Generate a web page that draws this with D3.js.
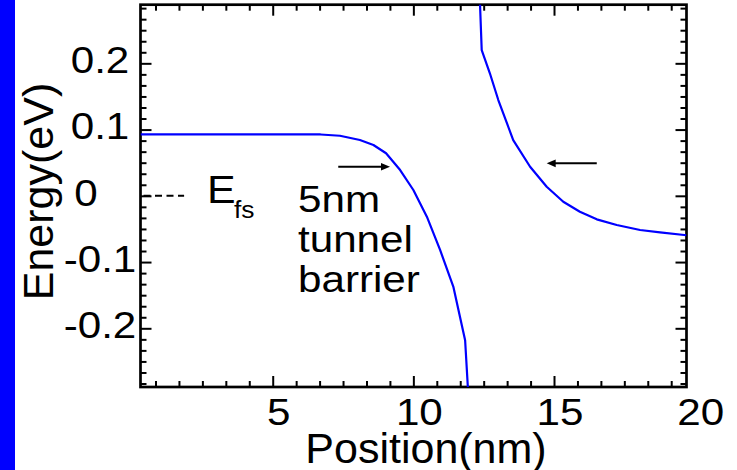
<!DOCTYPE html>
<html>
<head>
<meta charset="utf-8">
<script src="https://cdn.jsdelivr.net/npm/d3@7/dist/d3.min.js"></script>
<style>
  html, body { margin: 0; padding: 0; background: #fff; }
  svg { display: block; }
</style>
</head>
<body>
<svg id="chart" width="737" height="470"></svg>
<script>
// Conduction band edge, source side (position in nm, energy in eV)
const leftPosition = [0.3, 3.5, 6.7, 7.39, 8.10, 8.58, 9.03, 9.53, 10.0, 10.48, 10.95, 11.42, 11.84, 11.98];
const leftEnergy   = [0.0928, 0.0928, 0.0926, 0.0907, 0.0842, 0.0767, 0.0642, 0.0389, 0.0088, -0.0315, -0.0817, -0.137, -0.218, -0.32];

// Conduction band edge, drain side
const rightPosition = [12.36, 12.43, 12.72, 13.02, 13.55, 14.15, 14.74, 15.33, 15.92, 16.52, 17.23, 18.06, 18.77, 19.71];
const rightEnergy   = [0.30, 0.220, 0.185, 0.1446, 0.0842, 0.0439, 0.0137, -0.0089, -0.024, -0.0355, -0.0441, -0.0516, -0.0551, -0.0595];

// Axis ticks
const xTickLabels = [5, 10, 15, 20];
const yTickLabels = [-0.2, -0.1, 0, 0.1, 0.2];
const xDomain = [0.3, 19.71];
const yDomain = [-0.2886, 0.2885];

// Annotations
const fermiLevel = 0;
const fermiEnd = 1.85;
const barrierArrow = { from: [7.33, 0.0439], to: [9.17, 0.0439] };
const drainArrow   = { from: [16.52, 0.049], to: [14.74, 0.049] };
const barrierLines = ["5nm", "tunnel", "barrier"];

const svg = d3.select("#chart");
const FONT = "'Liberation Sans', Arial, Helvetica, sans-serif";

// side bar
svg.append("rect").attr("x", 0).attr("y", 0).attr("width", 15).attr("height", 470).attr("fill", "#0000ff");

const frameL = 140.5, frameR = 686.5, frameT = 4.7, frameB = 387;
const x = d3.scaleLinear().domain(xDomain).range([frameL, frameR]);
const y = d3.scaleLinear().domain(yDomain).range([frameB, frameT]);

svg.append("defs").append("clipPath").attr("id", "plotClip")
  .append("rect").attr("x", frameL).attr("y", frameT).attr("width", frameR - frameL).attr("height", frameB - frameT);

// tick positions
const xMajor = xTickLabels.filter(v => v >= xDomain[0] && v <= xDomain[1]);
const xMinor = d3.range(1, 24).filter(k => k % 6 !== 0).map(k => k * 5 / 6).filter(v => v <= xDomain[1]);
const yMajor = yTickLabels;
const yMinor = d3.range(-17, 18).filter(k => k % 6 !== 0).map(k => k / 60);

function tickAxis(axisFn, scale, values, size, tx, ty) {
  const g = svg.append("g").attr("transform", `translate(${tx},${ty})`)
    .call(axisFn(scale).tickValues(values).tickSize(size).tickFormat(""));
  g.select(".domain").remove();
  g.selectAll(".tick line").attr("stroke", "#000").attr("stroke-width", 2);
  return g;
}
// inward ticks on all four sides
tickAxis(d3.axisBottom, x, xMajor, -11, 0, frameB);
tickAxis(d3.axisBottom, x, xMinor, -6, 0, frameB);
tickAxis(d3.axisTop, x, xMajor, -11, 0, frameT);
tickAxis(d3.axisTop, x, xMinor, -6, 0, frameT);
tickAxis(d3.axisLeft, y, yMajor, -11, frameL, 0);
tickAxis(d3.axisLeft, y, yMinor, -6, frameL, 0);
tickAxis(d3.axisRight, y, yMajor, -11, frameR, 0);
tickAxis(d3.axisRight, y, yMinor, -6, frameR, 0);

// frame
svg.append("rect").attr("x", frameL).attr("y", frameT).attr("width", frameR - frameL).attr("height", frameB - frameT)
  .attr("fill", "none").attr("stroke", "#000").attr("stroke-width", 2.7);

function label(txt, px, py, size, sx, anchor) {
  return svg.append("text")
    .attr("transform", `translate(${px},${py}) scale(${sx},1)`)
    .attr("text-anchor", anchor || "start")
    .attr("font-family", FONT).attr("font-size", size).attr("fill", "#000")
    .text(txt);
}

// tick labels
xTickLabels.forEach(v => label(String(v), x(v) + 6, 425, 37, 1.14, "middle"));
yTickLabels.forEach(v => label(String(v), v === 0 ? 86 : 100, y(v) + 9.7, 37, 1.14, "middle"));

// axis titles
svg.append("text").attr("x", 426).attr("y", 462.5).attr("text-anchor", "middle")
  .attr("font-family", FONT).attr("font-size", 43).text("Position(nm)");
svg.append("text").attr("transform", `translate(53,${191.5}) rotate(-90)`).attr("text-anchor", "middle")
  .attr("font-family", FONT).attr("font-size", 43).text("Energy(eV)");

// band edge curves
const line = d3.line().x(d => x(d[0])).y(d => y(d[1]));
const plot = svg.append("g").attr("clip-path", "url(#plotClip)");
[[leftPosition, leftEnergy], [rightPosition, rightEnergy]].forEach(([xs, es]) => {
  plot.append("path").datum(xs.map((v, i) => [v, es[i]]))
    .attr("d", line).attr("fill", "none").attr("stroke", "#0000ff")
    .attr("stroke-width", 2.2).attr("stroke-linejoin", "round");
});

// Fermi level marker
svg.append("line").attr("x1", x(xDomain[0])).attr("x2", x(fermiEnd))
  .attr("y1", y(fermiLevel)).attr("y2", y(fermiLevel))
  .attr("stroke", "#000").attr("stroke-width", 2)
  .attr("stroke-dasharray", "7,4.5").attr("stroke-dashoffset", 8.5);
label("E", 207, 203.3, 39, 1.1, "start");
label("fs", 234, 218, 24, 1.1, "start");

// arrows
function arrow(a) {
  const x1 = x(a.from[0]), y1 = y(a.from[1]), x2 = x(a.to[0]), y2 = y(a.to[1]);
  const dir = Math.sign(x2 - x1), head = 9, half = 3.8;
  svg.append("line").attr("x1", x1).attr("y1", y1).attr("x2", x2 - dir * head * 0.6).attr("y2", y2)
    .attr("stroke", "#000").attr("stroke-width", 2);
  svg.append("path")
    .attr("d", `M${x2},${y2} L${x2 - dir * head},${y2 - half} L${x2 - dir * head},${y2 + half} Z`)
    .attr("fill", "#000");
}
arrow(barrierArrow);
arrow(drainArrow);

barrierLines.forEach((t, i) => label(t, 298, 211.7 + i * 40, 37, 1.14, "start"));
</script>
</body>
</html>
